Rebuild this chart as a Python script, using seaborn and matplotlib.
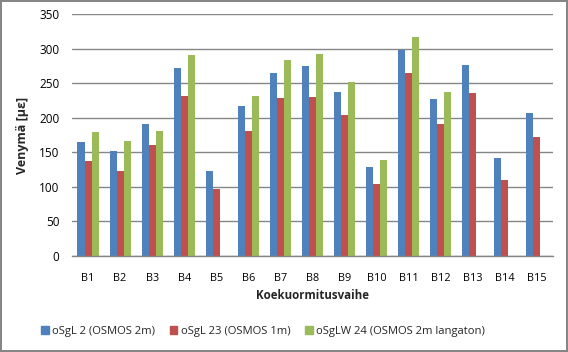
import matplotlib
matplotlib.use("Agg")
import matplotlib.pyplot as plt
import seaborn as sns
import pandas as pd
import numpy as np

# Data
stages = [f"B{i}" for i in range(1, 16)]
series_names = ["oSgL 2 (OSMOS 2m)", "oSgL 23 (OSMOS 1m)", "oSgLW 24 (OSMOS 2m langaton)"]
osgl2 = [165, 152, 191, 272, 123, 217, 265, 275, 237, 129, 298, 227, 276, 142, 207]
osgl23 = [137, 123, 161, 232, 97, 181, 229, 230, 204, 104, 265, 191, 236, 110, 172]
osglw24 = [179, 166, 181, 291, np.nan, 232, 284, 292, 252, 139, 317, 237, np.nan, np.nan, np.nan]
colors = ["#4F81BD", "#C0504D", "#9BBB59"]

df = pd.DataFrame({
    "stage": stages * 3,
    "series": np.repeat(series_names, len(stages)),
    "value": osgl2 + osgl23 + osglw24,
})

sns.set_style("white")
plt.rcParams["font.family"] = ["Open Sans", "DejaVu Sans"]

fig = plt.figure(figsize=(5.68, 3.52), dpi=100, edgecolor="#868686", linewidth=1.5)
ax = fig.add_axes([0.1268, 0.2727, 0.8468, 0.6867])

sns.barplot(data=df, x="stage", y="value", hue="series", palette=colors,
            width=0.66, saturation=1, order=stages, hue_order=series_names,
            ax=ax, legend=False, linewidth=0)

ax.set_xlim(-0.5, 14.5)
ax.set_ylim(0, 350)
ax.set_yticks(range(0, 351, 50))
ax.yaxis.grid(True, color="#868686", linewidth=1)
ax.set_axisbelow(True)
for side in ["top", "right", "left"]:
    ax.spines[side].set_visible(False)
ax.spines["bottom"].set_color("#868686")
ax.spines["bottom"].set_linewidth(1)
ax.tick_params(axis="x", length=0, labelsize=7.8, colors="black", pad=12)
ax.tick_params(axis="y", length=0, labelsize=8.5, colors="black", pad=9)
ax.set_xlabel("Koekuormitusvaihe", fontsize=8.3, fontweight="bold", labelpad=4)
ax.set_ylabel("Venymä [µε]", fontsize=9, fontweight="bold", labelpad=7)

handles = [plt.Rectangle((0, 0), 1, 1, color=c) for c in colors]
fig.legend(handles, series_names, loc="center", bbox_to_anchor=(0.463, 0.058),
           ncol=3, frameon=False, fontsize=8.1, handlelength=0.7, handleheight=0.7,
           handletextpad=0.3, columnspacing=1.3)

fig.savefig("out.png", dpi=100, edgecolor=fig.get_edgecolor(), facecolor="white")
